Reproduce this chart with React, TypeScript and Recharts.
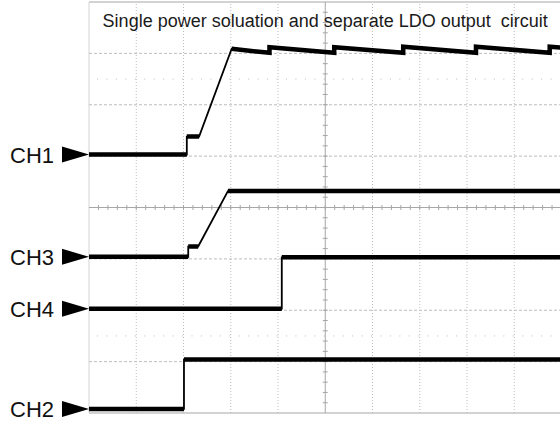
import { LineChart, Line, XAxis, YAxis, ReferenceLine } from 'recharts';

const TITLE = 'Single power soluation and separate LDO output  circuit';

// Time in divisions (0..10), level in divisions (-4..4).
// A null level marks a fast transition, drawn thin instead of as a noisy band.
const CH1_T = [0, 2.07, 2.07, 2.07, 2.33, 2.33, 3.02, 3.82, 3.82, 5.19, 5.19, 6.65, 6.65, 8.19, 8.19, 9.75, 9.75, 10];
const CH1_V = [1.03, 1.03, null, 1.38, 1.38, null, 3.09, 3.01, 3.12, 3.01, 3.12, 3.01, 3.13, 3.01, 3.13, 3.01, 3.13, 3.11];

const CH3_T = [0, 2.1, 2.1, 2.1, 2.31, 2.31, 2.94, 10];
const CH3_V = [-0.96, -0.96, null, -0.76, -0.76, null, 0.32, 0.32];

const CH4_T = [0, 4.08, 4.08, 4.08, 10];
const CH4_V = [-1.97, -1.97, null, -0.97, -0.97];

const CH2_T = [0, 2.01, 2.01, 2.01, 10];
const CH2_V = [-3.92, -3.92, null, -2.96, -2.96];

// channel markers on the left edge
const MARKER_LEVELS = [1.03, -0.96, -1.97, -3.92];
const MARKER_LABELS = ['CH1', 'CH3', 'CH4', 'CH2'];

// graticule
const GRID_T = [1, 2, 3, 4, 6, 7, 8, 9];
const GRID_V = [-3, -2, -1, 1, 2, 3];
const DOT_ROWS = [2.5, -2.5];

const GRID_COLOR = '#bdbdbd';
const AXIS_COLOR = '#a6a6a6';
const TRACE = '#000';

const CHANNELS = [
  { id: 'ch1', t: CH1_T, v: CH1_V },
  { id: 'ch3', t: CH3_T, v: CH3_V },
  { id: 'ch4', t: CH4_T, v: CH4_V },
  { id: 'ch2', t: CH2_T, v: CH2_V },
];

const thick = (t: number[], v: (number | null)[]) => t.map((x, i) => ({ t: x, v: v[i] }));
const thin = (t: number[], v: (number | null)[]) =>
  t.map((x, i) => ({ t: x, v: v[i] })).filter((p) => p.v !== null);

function ChannelTick(props: any) {
  const { y, payload } = props;
  const i = MARKER_LEVELS.indexOf(payload.value);
  return (
    <g>
      <text x={10} y={y + 8} fontSize={22} fill="#111" fontFamily="'Liberation Sans', Arial, sans-serif">
        {MARKER_LABELS[i]}
      </text>
      <polygon points={`62,${y - 8} 62,${y + 8} 89,${y}`} fill="#000" />
    </g>
  );
}

// centre horizontal line with minor ticks every 1/5 division
function CenterH(props: any) {
  const { x1, y1, x2 } = props;
  const step = (x2 - x1) / 50;
  const ticks = [];
  for (let i = 1; i < 50; i++) {
    const x = x1 + i * step;
    ticks.push(<line key={i} x1={x} x2={x} y1={y1 - 2.5} y2={y1 + 2.5} stroke={AXIS_COLOR} />);
  }
  return (
    <g>
      <line x1={x1} x2={x2} y1={y1} y2={y1} stroke={AXIS_COLOR} />
      {ticks}
    </g>
  );
}

// centre vertical line with minor ticks every 1/5 division
function CenterV(props: any) {
  const { x1, y1, y2 } = props;
  const top = Math.min(y1, y2);
  const step = Math.abs(y2 - y1) / 40;
  const ticks = [];
  for (let i = 1; i < 40; i++) {
    const y = top + i * step;
    ticks.push(<line key={i} x1={x1 - 2.5} x2={x1 + 2.5} y1={y} y2={y} stroke={AXIS_COLOR} />);
  }
  return (
    <g>
      <line x1={x1} x2={x1} y1={y1} y2={y2} stroke={AXIS_COLOR} />
      {ticks}
    </g>
  );
}

export default function App() {
  return (
    <div
      style={{
        position: 'fixed',
        left: 0,
        top: 0,
        width: 560,
        height: 423,
        overflow: 'hidden',
        background: '#fff',
      }}
    >
      <LineChart width={562} height={423} margin={{ top: 2, right: 0.5, bottom: 10, left: 0 }}>
        <XAxis type="number" dataKey="t" domain={[0, 10]} hide allowDataOverflow />
        <YAxis
          type="number"
          domain={[-4, 4]}
          ticks={MARKER_LEVELS}
          interval={0}
          width={89}
          axisLine={false}
          tickLine={false}
          tick={(p: any) => <ChannelTick {...p} />}
          allowDataOverflow
        />

        {/* frame */}
        <ReferenceLine y={4} stroke={AXIS_COLOR} />
        <ReferenceLine y={-4} stroke={AXIS_COLOR} />
        <ReferenceLine x={0} stroke="#d4d4d4" />

        {/* graticule */}
        {GRID_T.map((t) => (
          <ReferenceLine key={`gt${t}`} x={t} stroke={GRID_COLOR} strokeDasharray="1 2" />
        ))}
        {GRID_V.map((v) => (
          <ReferenceLine key={`gv${v}`} y={v} stroke={GRID_COLOR} strokeDasharray="3 2" />
        ))}
        {DOT_ROWS.map((v) => (
          <ReferenceLine key={`dr${v}`} y={v} stroke={GRID_COLOR} strokeDasharray="1 8.45" strokeDashoffset={-8} />
        ))}
        <ReferenceLine y={0} shape={(p: any) => <CenterH {...p} />} />
        <ReferenceLine x={5} shape={(p: any) => <CenterV {...p} />} />

        {/* traces: thin path incl. edges/ramps, then thick noisy-looking levels */}
        {CHANNELS.map((c) => (
          <Line
            key={`${c.id}-thin`}
            data={thin(c.t, c.v)}
            dataKey="v"
            type="linear"
            stroke={TRACE}
            strokeWidth={1.8}
            dot={false}
            activeDot={false}
            isAnimationActive={false}
          />
        ))}
        {CHANNELS.map((c) => (
          <Line
            key={`${c.id}-thick`}
            data={thick(c.t, c.v)}
            dataKey="v"
            type="linear"
            stroke={TRACE}
            strokeWidth={4.5}
            connectNulls={false}
            dot={false}
            activeDot={false}
            isAnimationActive={false}
          />
        ))}
      </LineChart>
      <div
        style={{
          position: 'absolute',
          left: 89,
          top: 12,
          width: 472.5,
          textAlign: 'center',
          fontFamily: "'Liberation Sans', Arial, sans-serif",
          fontSize: 18,
          lineHeight: '18px',
          color: '#1a1a1a',
          whiteSpace: 'pre',
          pointerEvents: 'none',
        }}
      >
        {TITLE}
      </div>
    </div>
  );
}
